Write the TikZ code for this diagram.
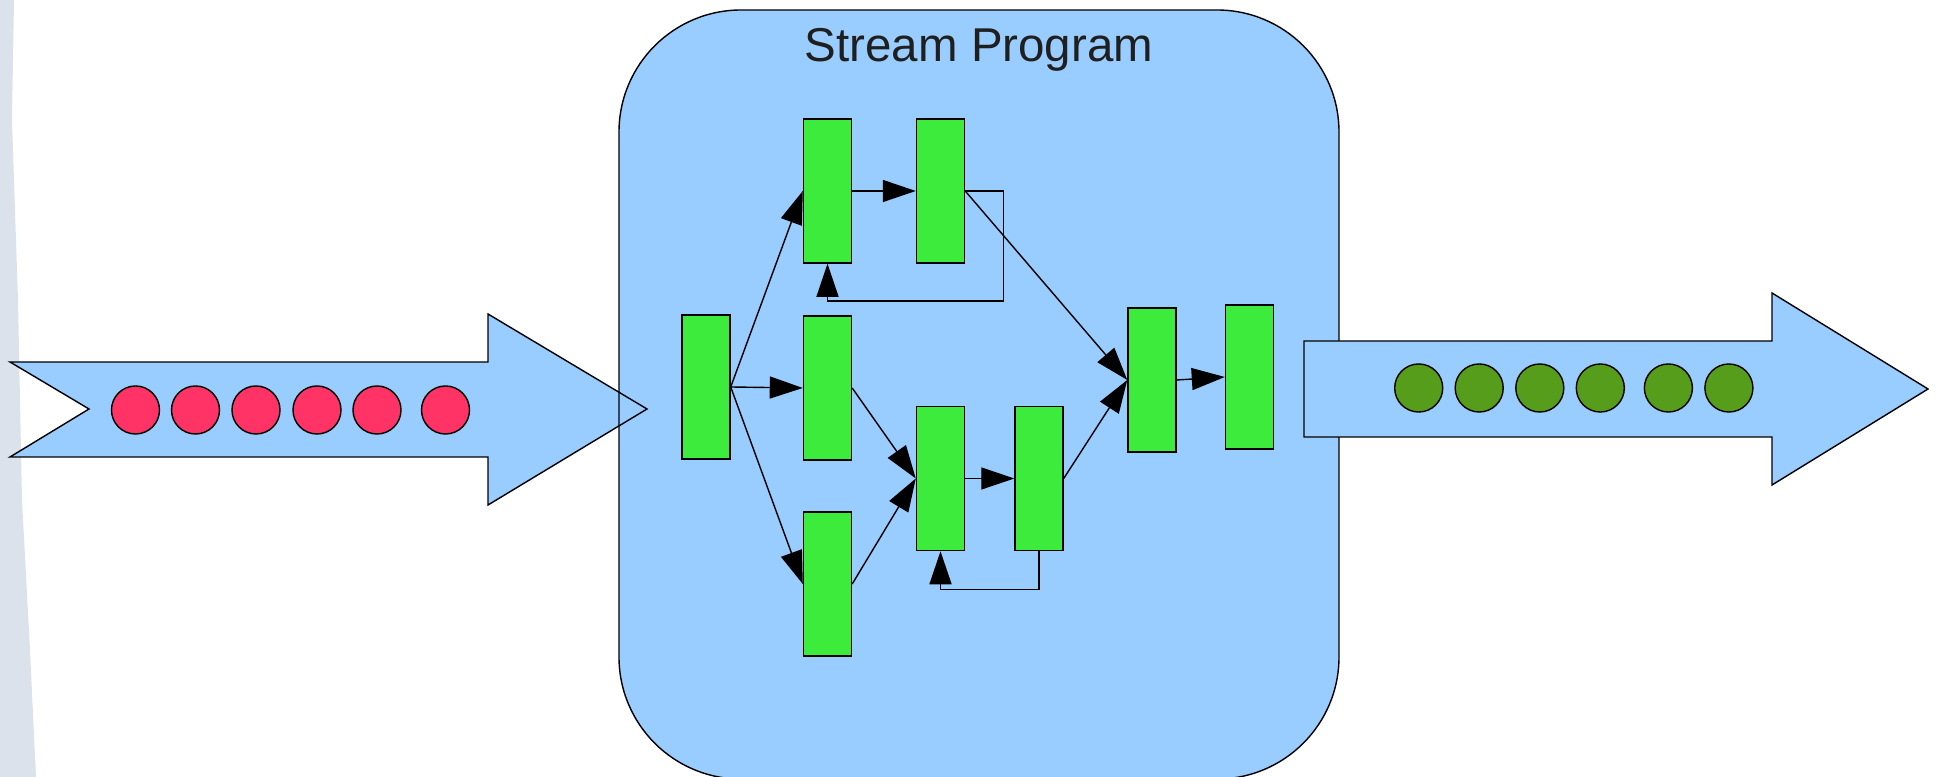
\documentclass[tikz,border=0pt]{standalone}
\usepackage{fontspec}
\setmainfont{Liberation Sans}
\usetikzlibrary{arrows.meta}

\definecolor{streamblue}{HTML}{99CCFF}
\definecolor{filtergreen}{HTML}{3DEB3D}
\definecolor{itemred}{HTML}{FF3366}
\definecolor{itemgreen}{HTML}{579D1C}
\definecolor{haze}{HTML}{DCE2EC}

\tikzset{
  filter/.style={draw, fill=filtergreen, minimum width=4.8mm, minimum height=14.4mm, inner sep=0pt},
  item/.style={draw, circle, minimum size=4.8mm, inner sep=0pt},
  flow/.style={-{Triangle[length=3.3mm,width=2.2mm]}},
}

\begin{document}
\begin{tikzpicture}[x=0.01cm,y=-0.01cm]
  \useasboundingbox (0,0) rectangle (1939,777);
  % pale strip down the left edge
  \fill[haze] (0,0) -- (14,0) -- (12,120) -- (18,300) -- (22,500) -- (30,650) -- (36,777) -- (0,777) -- cycle;
  % input stream and program box
  \def\inarrow{(10,362) -- (488,362) -- (488,314) -- (647,409) -- (488,505) -- (488,457) -- (10,457) -- (89,409) -- cycle}
  \fill[streamblue] \inarrow;
  \fill[streamblue, rounded corners=12.2mm] (619,10) rectangle (1339,779);
  \draw[rounded corners=12.2mm] (619,10) rectangle (1339,779);
  \draw \inarrow;
  \node[anchor=base, font=\fontsize{13.5}{16}\selectfont, text=black!88] (title) at (979,62) {Stream Program};

  % items waiting on the input
  \foreach \x [count=\i] in {135.5,195.5,256,317,377,445.5}
    \node[item, fill=itemred] (in\i) at (\x,410) {};

  % filters
  \node[filter] (split) at (706,387) {};
  \node[filter] (up1) at (827.5,191) {};
  \node[filter] (up2) at (940.5,191) {};
  \node[filter] (mid) at (827.5,388) {};
  \node[filter] (low) at (827.5,584) {};
  \node[filter] (loop1) at (940.5,478.5) {};
  \node[filter] (loop2) at (1039,478.5) {};
  \node[filter] (join) at (1152,380) {};
  \node[filter] (sink) at (1249.5,377) {};

  \draw[flow] (split.east) -- (up1.west);
  \draw[flow] (split.east) -- (mid.west);
  \draw[flow] (split.east) -- (low.west);
  \draw[flow] (up1.east) -- (up2.west);
  \draw[flow] (up2.east) -- ++(38,0) -- ++(0,110) -| (up1.south);
  \draw[flow] (up2.east) -- (join.west);
  \draw[flow] (mid.east) -- (loop1.west);
  \draw[flow] (low.east) -- (loop1.west);
  \draw[flow] (loop1.east) -- (loop2.west);
  \draw[flow] (loop2.south) -- ++(0,38) -| (loop1.south);
  \draw[flow] (loop2.east) -- (join.west);
  \draw[flow] (join.east) -- (sink.west);

  % output stream
  \filldraw[fill=streamblue] (1304,341) -- (1772,341) -- (1772,293) -- (1928,389) -- (1772,485) -- (1772,437) -- (1304,437) -- cycle;
  \foreach \x [count=\i] in {1418.7,1479.2,1539.8,1600.3,1668.4,1728.9}
    \node[item, fill=itemgreen] (out\i) at (\x,388) {};
\end{tikzpicture}
\end{document}
